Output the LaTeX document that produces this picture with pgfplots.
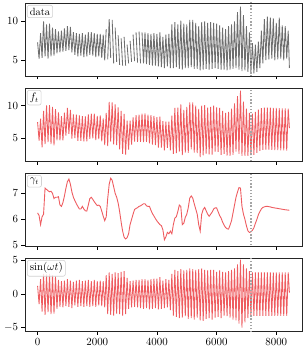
\documentclass[border=0pt]{standalone}
\usepackage{pgfplots}
\usepackage{pgfplotstable}
\pgfplotsset{compat=1.18}
\definecolor{myred}{RGB}{238,92,96}
\definecolor{mygray}{RGB}{110,110,110}
\definecolor{vline}{RGB}{165,165,165}

\pgfplotstableread{
x g
0 6.25
50 6.15
100 5.80
150 6.10
200 6.20
250 7.20
300 7.15
350 7.10
400 7.06
450 7.08
500 7.00
550 6.80
600 6.85
650 6.85
700 6.87
750 6.55
800 6.50
850 6.65
900 6.90
950 7.20
1000 7.45
1050 7.55
1100 7.35
1150 7.05
1200 6.85
1250 6.72
1300 6.60
1350 6.50
1400 6.40
1450 6.40
1500 6.50
1550 6.40
1600 6.33
1650 6.32
1700 6.55
1750 6.80
1800 6.85
1850 6.77
1900 6.68
1950 6.60
2000 6.53
2050 6.55
2100 6.50
2150 6.32
2200 6.12
2250 5.95
2300 6.10
2350 6.80
2400 7.35
2450 7.58
2500 7.50
2550 7.25
2600 7.00
2650 6.85
2700 6.63
2750 6.30
2800 5.90
2850 5.55
2900 5.32
2950 5.25
3000 5.30
3050 5.45
3100 5.80
3150 6.00
3200 6.20
3250 6.38
3300 6.42
3350 6.45
3400 6.50
3450 6.52
3500 6.56
3550 6.60
3600 6.60
3650 6.52
3700 6.50
3750 6.50
3800 6.35
3850 6.22
3900 6.13
3950 6.03
4000 5.94
4050 5.87
4100 5.80
4150 5.76
4200 5.60
4250 5.22
4300 5.33
4350 5.50
4400 5.45
4450 5.55
4500 5.45
4550 5.80
4600 6.05
4650 6.10
4700 6.30
4750 6.55
4800 6.50
4850 5.80
4900 5.85
4950 6.08
5000 6.20
5050 6.45
5100 6.82
5150 6.90
5200 6.82
5250 6.60
5300 6.40
5350 6.20
5400 5.80
5450 5.55
5500 6.20
5550 6.38
5600 6.46
5650 6.33
5700 6.20
5750 6.12
5800 6.20
5850 6.28
5900 6.40
5950 6.44
6000 6.44
6050 6.30
6100 6.15
6150 6.05
6200 5.90
6250 5.78
6300 5.69
6350 5.64
6400 5.63
6450 5.78
6500 5.95
6550 6.25
6600 6.55
6650 6.85
6700 7.05
6750 7.22
6800 7.20
6850 6.50
6900 6.20
6950 6.00
7000 5.75
7050 5.56
7100 5.50
7150 5.52
7200 5.58
7250 5.68
7300 5.85
7350 6.00
7400 6.18
7450 6.30
7500 6.40
7550 6.46
7600 6.48
7650 6.50
7700 6.50
7750 6.49
7800 6.48
7850 6.46
7900 6.45
8000 6.43
8100 6.41
8200 6.39
8300 6.37
8440 6.35
}\gamtab

\pgfplotstableread{
x s f
0 1.2 7.45
50 -1.5 4.65
100 2.2 8.0
150 -2.6 3.6
200 3.0 9.2
250 -3.1 4.1
300 2.9 10.05
350 -2.7 4.4
400 3.0 10.06
450 -3.0 4.08
500 2.8 9.8
550 -2.9 3.9
600 2.6 9.45
650 -2.2 4.65
700 2.1 8.97
750 -1.9 4.65
800 1.9 8.4
850 -2.0 4.65
900 2.0 8.9
950 -1.8 5.4
1000 2.2 9.65
1050 -1.9 5.65
1100 2.0 9.35
1150 -2.1 4.95
1200 1.8 8.65
1250 -1.7 5.02
1300 2.0 8.6
1350 -1.9 4.6
1400 2.1 8.5
1450 -1.8 4.6
1500 1.9 8.4
1550 -1.9 4.5
1600 2.0 8.33
1650 -1.8 4.52
1700 2.1 8.65
1750 -1.9 4.9
1800 1.9 8.75
1850 -1.8 4.97
1900 2.1 8.78
1950 -1.9 4.7
2000 1.9 8.43
2050 -1.7 4.85
2100 2.0 8.5
2150 -1.8 4.52
2200 1.9 8.02
2250 -2.0 3.95
2300 2.8 8.9
2350 -3.0 3.8
2400 3.2 10.55
2450 -3.1 4.48
2500 3.0 10.5
2550 -3.2 4.05
2600 3.2 10.2
2650 -2.9 3.95
2700 3.1 9.73
2750 -3.0 3.3
2800 3.3 9.2
2850 -3.2 2.6
2900 3.4 8.72
2950 -3.0 2.5
3000 2.4 7.7
3050 -2.2 3.25
3100 1.9 7.7
3150 -2.0 4.0
3200 2.0 8.2
3250 -1.9 4.48
3300 2.1 8.52
3350 -2.0 4.45
3400 2.1 8.6
3450 -2.1 4.42
3500 2.2 8.76
3550 -2.2 4.4
3600 2.2 8.8
3650 -2.1 4.42
3700 2.1 8.6
3750 -2.3 4.2
3800 2.2 8.55
3850 -2.2 4.02
3900 2.3 8.43
3950 -2.1 3.93
4000 2.3 8.24
4050 -2.3 3.57
4100 2.5 8.3
4150 -2.2 3.56
4200 2.0 7.6
4250 -2.1 3.12
4300 2.2 7.53
4350 -2.0 3.5
4400 2.1 7.55
4450 -2.4 3.15
4500 3.0 8.45
4550 -3.2 2.6
4600 3.6 9.65
4650 -3.4 2.7
4700 3.4 9.7
4750 -3.6 2.95
4800 3.7 10.2
4850 -3.5 2.4
4900 3.5 9.35
4950 -3.3 2.78
5000 3.6 9.8
5050 -3.7 2.75
5100 3.8 10.5
5150 -3.6 3.3
5200 3.7 10.5
5250 -3.8 2.8
5300 3.6 10.0
5350 -3.5 2.7
5400 3.7 9.5
5450 -3.9 2.1
5500 3.8 10.0
5550 -4.0 2.38
5600 3.6 10.06
5650 -3.7 2.63
5700 3.5 9.7
5750 -3.6 2.52
5800 3.6 9.8
5850 -3.8 2.48
5900 3.6 10.0
5950 -3.5 2.94
6000 3.3 9.74
6050 -3.4 2.9
6100 3.5 9.65
6150 -3.6 2.45
6200 3.3 9.2
6250 -3.2 2.58
6300 3.2 8.89
6350 -3.3 2.34
6400 3.4 9.03
6450 -3.5 2.28
6500 3.6 9.55
6550 -3.8 2.45
6600 3.8 10.35
6650 -3.9 2.95
6700 4.4 11.45
6750 -4.4 2.6
6800 5.1 12.3
6850 -5.0 2.3
6900 4.4 10.6
6950 -4.2 2.3
7000 3.8 9.55
7050 -3.6 2.3
7100 3.4 8.9
7150 -3.3 2.4
7200 3.2 8.78
7250 -3.25 2.43
7300 3.2 9.05
7350 -3.25 2.75
7400 3.2 9.38
7450 -3.25 3.05
7500 3.2 9.6
7550 -3.25 3.21
7600 3.2 9.68
7650 -3.25 3.25
7700 3.2 9.7
7750 -3.25 3.24
7800 3.2 9.68
7850 -3.25 3.21
7900 3.2 9.65
7950 -3.25 3.19
8000 3.2 9.63
8050 -3.25 3.17
8100 3.2 9.61
8150 -3.25 3.15
8200 3.2 9.59
8250 -3.25 3.13
8300 3.2 9.57
8350 -3.25 3.11
8400 3.2 9.55
8440 0.2 6.55
}\zigtab

\pgfplotstableread{
x d
0 7.3
50 5.2
100 8.5
150 5.3
200 10.0
250 5.5
300 9.6
350 5.2
400 9.7
450 5.5
500 9.2
550 5.6
600 9.0
650 5.9
700 8.7
750 6.0
800 8.8
850 6.1
900 9.1
950 6.2
1000 9.4
1050 6.3
1100 9.3
1150 6.0
1200 8.6
1250 5.7
1300 8.5
1350 5.5
1400 8.4
1450 5.6
1500 8.5
1550 5.4
1600 8.3
1650 5.5
1700 8.6
1750 5.7
1800 8.6
1850 5.6
1900 8.5
1950 5.4
2000 8.4
2050 5.5
2100 8.4
2150 5.3
2200 8.3
2250 5.0
2300 9.0
2325 nan
2350 5.1
2400 10.3
2450 5.3
2475 nan
2500 10.2
2550 4.6
2575 nan
2600 9.2
2650 4.8
2675 nan
2700 8.2
2750 4.4
2775 nan
2800 7.8
2850 4.3
2875 nan
2900 8.0
2950 4.3
2975 nan
3000 7.0
3050 4.6
3075 nan
3100 7.5
3150 4.8
3175 nan
3200 8.3
3250 4.9
3275 nan
3300 8.6
3350 4.7
3375 nan
3400 8.7
3450 4.6
3475 nan
3500 8.6
3550 4.6
3600 8.6
3650 4.5
3700 8.5
3750 4.4
3800 8.4
3850 4.3
3900 8.5
3950 4.3
4000 8.4
4050 4.2
4100 8.6
4150 4.1
4200 8.0
4250 4.0
4300 8.3
4350 4.2
4400 8.4
4450 4.0
4500 9.6
4550 4.0
4600 9.9
4650 4.1
4700 9.6
4750 3.9
4800 10.1
4850 3.8
4900 9.7
4950 4.0
5000 9.6
5050 4.0
5100 10.2
5150 4.1
5200 10.2
5250 3.9
5300 9.8
5350 3.9
5400 9.4
5450 3.7
5500 9.9
5550 3.8
5600 10.0
5650 3.9
5700 9.8
5750 3.8
5800 9.9
5850 3.9
5900 9.8
5950 4.0
6000 9.7
6050 3.9
6100 9.5
6150 3.8
6200 9.2
6250 3.8
6300 9.0
6350 3.7
6400 9.4
6450 3.8
6500 9.6
6550 3.9
6600 10.0
6650 4.0
6700 11.2
6750 3.8
6800 11.9
6850 3.6
6900 10.8
6950 3.7
7000 9.4
7050 3.5
7100 8.6
7150 3.4
7200 7.2
7250 3.3
7300 7.0
7350 3.5
7400 7.4
7450 4.0
7500 8.8
7550 4.6
7600 10.3
7650 5.0
7700 10.6
7750 5.1
7800 10.5
7850 5.2
7900 10.4
7950 5.0
8000 9.8
8050 5.1
8100 10.5
8150 5.2
8200 9.5
8250 5.0
8300 9.4
8350 5.2
8400 8.8
8440 4.0
}\datatab

\pgfplotsset{
  panel/.style={
    scale only axis, width=277bp, height=73bp,
    xmin=-422, xmax=8862,
    axis line style={line width=0.8pt, black!85},
    every tick/.style={black, line width=0.6pt},
    major tick length=3.5bp,
    tick align=outside, xtick pos=bottom, ytick pos=left,
    xtick={0,2000,4000,6000,8000},
    /pgf/number format/1000 sep={},
    tick label style={font=\fontsize{10.5}{12}\selectfont},
    unbounded coords=jump,
    clip=true,
  },
  vl/.style={vline, line width=1.4pt, dash pattern=on 1.4pt off 1.8pt, forget plot},
}
\tikzset{
  legbox/.style={anchor=north west, xshift=2bp, yshift=-2bp, draw=black!18,
    line width=0.6pt, rounded corners=2bp, fill=white, fill opacity=0.8,
    text opacity=1, inner sep=2.5bp, font=\fontsize{10.5}{12}\selectfont},
}

\begin{document}
\begin{tikzpicture}
\begin{axis}[panel, at={(0,0)}, anchor=north west, ymin=2.97, ymax=12.37,
  ytick={5,10}, xticklabels={}]
\addplot[mygray, line width=0.85pt] table[x=x, y=d] {\datatab};
\addplot[vl] coordinates {(7150,0) (7150,20)};
\node[legbox] at (rel axis cs:0,1) {data};
\end{axis}

\begin{axis}[panel, at={(0,-85bp)}, anchor=north west, ymin=1.5, ymax=12.7,
  ytick={5,10}, xticklabels={}]
\addplot[myred, line width=0.85pt] table[x=x, y=f] {\zigtab};
\addplot[vl] coordinates {(7150,0) (7150,20)};
\node[legbox] at (rel axis cs:0,1) {$f_t$};
\end{axis}

\begin{axis}[panel, at={(0,-170bp)}, anchor=north west, ymin=4.98, ymax=7.78,
  ytick={5,6,7}, xticklabels={}]
\addplot[myred, line width=0.9pt] table[x=x, y=g] {\gamtab};
\addplot[vl] coordinates {(7150,0) (7150,20)};
\node[legbox] at (rel axis cs:0,1) {$\gamma_t$};
\end{axis}

\begin{axis}[panel, at={(0,-255bp)}, anchor=north west, ymin=-5.5, ymax=5.35,
  ytick={-5,0,5}]
\addplot[myred, line width=0.85pt] table[x=x, y=s] {\zigtab};
\addplot[vl] coordinates {(7150,-10) (7150,20)};
\node[legbox] at (rel axis cs:0,1) {$\sin(\omega t)$};
\end{axis}

\pgfresetboundingbox
\useasboundingbox (-25bp,3bp) rectangle (281bp,-347bp);
\end{tikzpicture}
\end{document}
